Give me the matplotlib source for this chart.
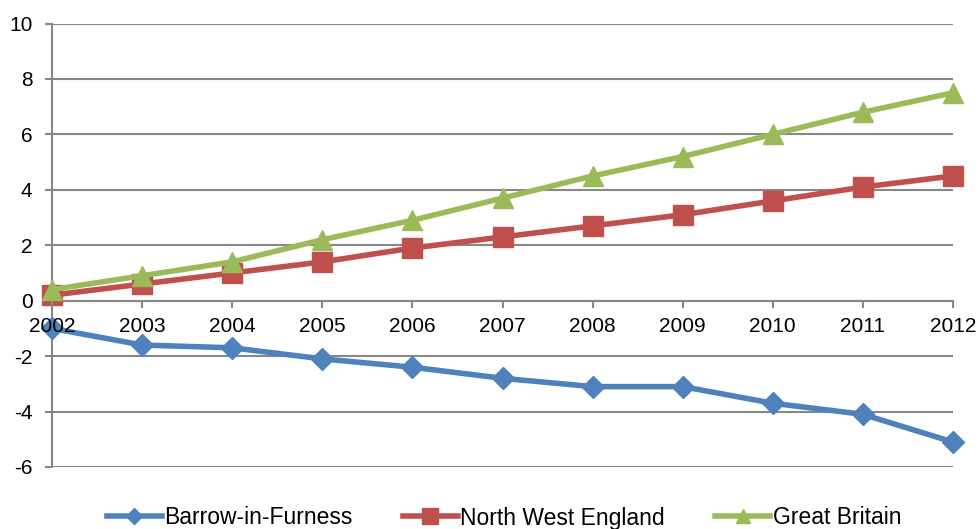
import matplotlib
matplotlib.use("Agg")
import matplotlib.pyplot as plt

years = [2002, 2003, 2004, 2005, 2006, 2007, 2008, 2009, 2010, 2011, 2012]
barrow = [-1.0, -1.6, -1.7, -2.1, -2.4, -2.8, -3.1, -3.1, -3.7, -4.1, -5.1]
north_west = [0.2, 0.6, 1.0, 1.4, 1.9, 2.3, 2.7, 3.1, 3.6, 4.1, 4.5]
great_britain = [0.4, 0.9, 1.4, 2.2, 2.9, 3.7, 4.5, 5.2, 6.0, 6.8, 7.5]
y_ticks = [-6, -4, -2, 0, 2, 4, 6, 8, 10]

plt.rcParams['font.family'] = ['Liberation Sans', 'DejaVu Sans']
plt.rcParams['axes.unicode_minus'] = False

fig = plt.figure(figsize=(9.79, 5.29), dpi=100)
ax = fig.add_axes([52 / 979, 1 - 467 / 529, (953 - 52) / 979, (467 - 23.5) / 529])

grid_col = '#888888'
ax.set_ylim(-6, 10)
ax.set_xlim(years[0], years[-1])
ax.set_yticks(y_ticks)
ax.set_xticks(years)
ax.set_xticklabels([str(y) for y in years])
ax.yaxis.grid(True, color=grid_col, linewidth=1.5)
ax.set_axisbelow(True)
# year labels sit on top of the series lines
ax.xaxis.set_zorder(10)

for s in ['top', 'right']:
    ax.spines[s].set_visible(False)
ax.spines['left'].set_color(grid_col)
ax.spines['left'].set_linewidth(1.5)
ax.spines['bottom'].set_position(('data', 0))
ax.spines['bottom'].set_color(grid_col)
ax.spines['bottom'].set_linewidth(1.5)
ax.tick_params(axis='y', length=5, width=1.5, color=grid_col, labelsize=15, pad=9)
ax.tick_params(axis='x', length=5, width=1.5, color=grid_col, labelsize=15, pad=7)

lw = 4
ax.plot(years, barrow, color='#4F81BD', lw=lw, marker='D', markersize=11,
        label='Barrow-in-Furness', clip_on=False, zorder=3)
ax.plot(years, north_west, color='#C0504D', lw=lw, marker='s', markersize=14,
        label='North West England', clip_on=False, zorder=4)
ax.plot(years, great_britain, color='#9BBB59', lw=lw, marker='^', markersize=14,
        label='Great Britain', clip_on=False, zorder=5)

leg = fig.legend(loc='center', bbox_to_anchor=(504 / 979, 1 - 518 / 529), ncol=3,
                 frameon=False, handlelength=2.4, columnspacing=2.2, handletextpad=0.1,
                 prop={'size': 16.5})
for h, ms in zip(leg.legend_handles, [8, 11, 10]):
    h.set_markersize(ms)

fig.savefig('out.png', dpi=100)
